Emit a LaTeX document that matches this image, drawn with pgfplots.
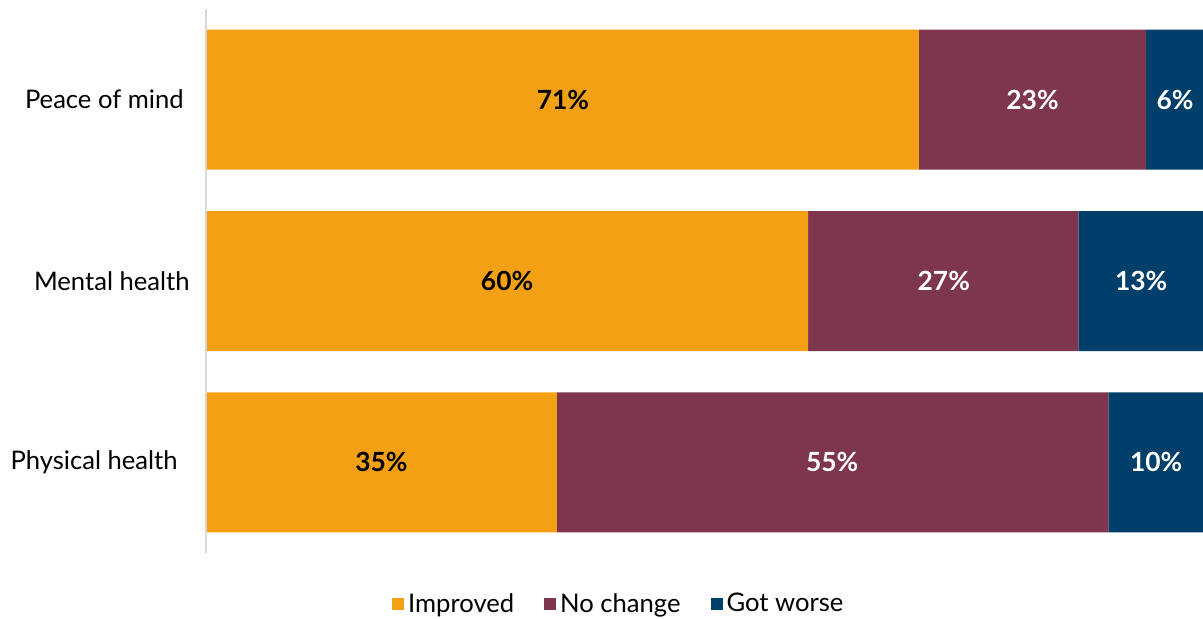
\documentclass[border=0pt]{standalone}
\usepackage{pgfplots}
\pgfplotsset{compat=1.18}
\usepackage{fontspec}
\setmainfont{Lato}
\definecolor{cImp}{HTML}{F3A015}
\definecolor{cNo}{HTML}{7E354E}
\definecolor{cWorse}{HTML}{003F69}
\definecolor{cAxis}{HTML}{D9D9D9}
\begin{document}
\begin{tikzpicture}
\path[use as bounding box] (-103pt,-32.5pt) rectangle (498.5pt,276.5pt);
\pgfplotsset{common/.style={scale only axis, width=498.5pt, height=272pt,
  xmin=-0.1, xmax=99.9, ymin=-0.5, ymax=2.5, at={(0,0)}, anchor=south west}}
\begin{axis}[common, xbar stacked, bar width=70pt,
  axis x line=none, axis y line*=left,
  y axis line style={cAxis, line width=1.2pt, -},
  ytick={0,1,2},
  yticklabels={Physical health\kern6pt, Mental health, Peace of mind\kern3pt},
  major tick length=0pt,
  yticklabel style={inner sep=0pt, xshift=-8pt, font=\fontsize{12.8}{14}\selectfont},
  legend style={draw=none, fill=none, at={(0.415,-0.094)}, anchor=center,
    legend columns=3, font=\fontsize{12.8}{14}\selectfont,
    /tikz/every even column/.append style={column sep=13pt},
    legend cell align=left},
  legend image code/.code={\fill[#1] (0pt,-3pt) rectangle (6pt,3pt);},
]
\addplot[fill=cImp, draw=none] coordinates {(35.1,0) (60.3,1) (71.4,2)};
\addlegendentry{Improved}
\addplot[fill=cNo, draw=none] coordinates {(55.3,0) (27.1,1) (22.8,2)};
\addlegendentry{No change}
\addplot[fill=cWorse, draw=none] coordinates {(9.6,0) (12.6,1) (5.8,2)};
\addlegendentry{Got worse}
\end{axis}
\begin{axis}[common, hide axis,
  nodes near coords={\pgfplotspointmeta\%},
  point meta=explicit symbolic,
  every node near coord/.append style={anchor=center, font=\fontsize{13.2}{15}\selectfont\bfseries}]
\addplot[draw=none, mark=none, nodes near coords style={text=black}]
  coordinates {(17.5,0) [35] (30.1,1) [60] (35.7,2) [71]};
\addplot[draw=none, mark=none, nodes near coords style={text=white}]
  coordinates {(62.7,0) [55] (73.9,1) [27] (82.8,2) [23]
               (95.2,0) [10] (93.7,1) [13] (97.1,2) [6]};
\end{axis}
\end{tikzpicture}
\end{document}
